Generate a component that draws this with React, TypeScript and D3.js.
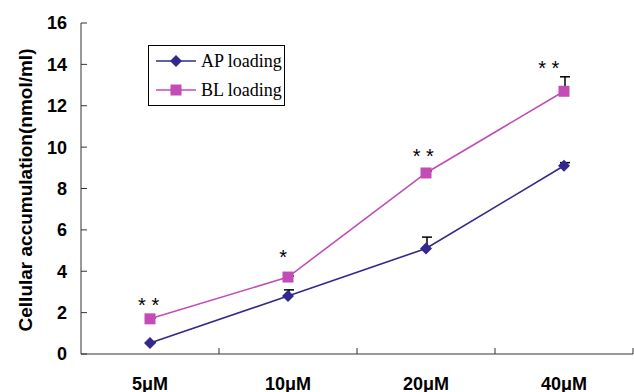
import React from "react";
import * as d3 from "d3";

const categories = ["5μM", "10μM", "20μM", "40μM"];
const apValues = [0.53, 2.8, 5.1, 9.1];
const apErrors = [0.05, 0.3, 0.55, 0.15];
const blValues = [1.7, 3.72, 8.75, 12.7];
const blErrors = [0.05, 0.05, 0.1, 0.7];
const stars = ["* *", "*", "* *", "* *"];
const starLevels = [2.56, 4.88, 9.76, 14.0];
const starShift = [-0.01, -0.035, -0.02, -0.11];
const yTicks = [0, 2, 4, 6, 8, 10, 12, 14, 16];

const W = 634;
const H = 392;
const left = 81;
const right = 633;
const top = 23;
const bottom = 354;

const AP_COLOR = "#33288C";
const BL_COLOR = "#C24DB6";
const SANS = "Liberation Sans, Arial, sans-serif";
const SERIF = "Liberation Serif, Times New Roman, serif";

export default function App() {
  const x = d3.scaleBand<string>().domain(categories).range([left, right]).padding(0);
  const y = d3.scaleLinear().domain([0, 16]).range([bottom, top]);
  const cx = (c: string) => (x(c) as number) + x.bandwidth() / 2;
  const line = d3
    .line<number>()
    .x((_, i) => cx(categories[i]))
    .y((d) => y(d));

  const diamond = (px: number, py: number, r = 6) =>
    `M${px},${py - r}L${px + r},${py}L${px},${py + r}L${px - r},${py}Z`;

  return (
    <svg
      width={W}
      height={H}
      style={{ position: "absolute", left: 0, top: 0, background: "#fff" }}
    >
      {/* axes */}
      <line x1={left} x2={left} y1={top} y2={bottom} stroke="#333" strokeWidth={1} />
      <line x1={left} x2={right} y1={bottom} y2={bottom} stroke="#333" strokeWidth={1} />
      {yTicks.map((t) => (
        <g key={t}>
          <line x1={left} x2={left + 6} y1={y(t)} y2={y(t)} stroke="#333" />
          <text
            x={67}
            y={y(t)}
            dy="0.36em"
            textAnchor="end"
            fontFamily={SANS}
            fontWeight="bold"
            fontSize={18}
          >
            {t}
          </text>
        </g>
      ))}
      {categories.map((c, i) => (
        <line
          key={"xt" + i}
          x1={(x(c) as number) + x.bandwidth()}
          x2={(x(c) as number) + x.bandwidth()}
          y1={bottom}
          y2={bottom - 6}
          stroke="#333"
        />
      ))}
      {categories.map((c) => (
        <text
          key={"xl" + c}
          x={cx(c)}
          y={390}
          textAnchor="middle"
          fontFamily={SANS}
          fontWeight="bold"
          fontSize={18}
        >
          {c}
        </text>
      ))}
      <text
        transform={`translate(25,190) rotate(-90)`}
        textAnchor="middle"
        dy="0.35em"
        fontFamily={SANS}
        fontWeight="bold"
        fontSize={19}
      >
        Cellular accumulation(nmol/ml)
      </text>

      {/* error bars */}
      {categories.map((c, i) => (
        <g key={"eb" + i} stroke="#000" strokeWidth={1.5}>
          <line x1={cx(c) + 1} x2={cx(c) + 1} y1={y(apValues[i])} y2={y(apValues[i] + apErrors[i])} />
          <line x1={cx(c) - 4} x2={cx(c) + 6} y1={y(apValues[i] + apErrors[i])} y2={y(apValues[i] + apErrors[i])} />
          <line x1={cx(c) + 1} x2={cx(c) + 1} y1={y(blValues[i])} y2={y(blValues[i] + blErrors[i])} />
          <line x1={cx(c) - 4} x2={cx(c) + 6} y1={y(blValues[i] + blErrors[i])} y2={y(blValues[i] + blErrors[i])} />
        </g>
      ))}

      {/* lines */}
      <path d={line(apValues) || ""} fill="none" stroke={AP_COLOR} strokeWidth={1.6} />
      <path d={line(blValues) || ""} fill="none" stroke={BL_COLOR} strokeWidth={1.6} />
      {apValues.map((v, i) => (
        <path key={"ap" + i} d={diamond(cx(categories[i]), y(v))} fill={AP_COLOR} />
      ))}
      {blValues.map((v, i) => (
        <rect
          key={"bl" + i}
          x={cx(categories[i]) - 5.5}
          y={y(v) - 5.5}
          width={11}
          height={11}
          fill={BL_COLOR}
        />
      ))}

      {/* significance stars */}
      {categories.map((c, i) => (
        <text
          key={"st" + i}
          x={cx(c) + starShift[i] * x.bandwidth()}
          y={y(starLevels[i]) + 11}
          textAnchor="middle"
          fontFamily={SANS}
          fontSize={20}
          style={{ whiteSpace: "pre" }}
        >
          {stars[i]}
        </text>
      ))}

      {/* legend */}
      <rect x={148.5} y={45.5} width={136} height={60} fill="#fff" stroke="#000" strokeWidth={1} />
      <line x1={156} x2={196} y1={61} y2={61} stroke={AP_COLOR} strokeWidth={1.6} />
      <path d={diamond(176, 61)} fill={AP_COLOR} />
      <text x={201} y={61} dy="0.33em" fontFamily={SERIF} fontSize={18}>
        AP loading
      </text>
      <line x1={156} x2={196} y1={90} y2={90} stroke={BL_COLOR} strokeWidth={1.6} />
      <rect x={170.5} y={84.5} width={11} height={11} fill={BL_COLOR} />
      <text x={201} y={90} dy="0.33em" fontFamily={SERIF} fontSize={18}>
        BL loading
      </text>
    </svg>
  );
}
